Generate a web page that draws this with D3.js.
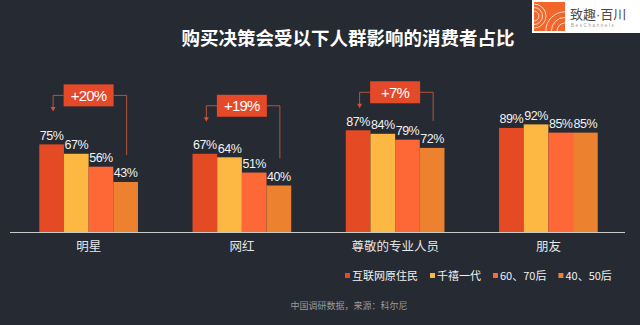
<!DOCTYPE html>
<html>
<head>
<meta charset="utf-8">
<script src="https://cdn.jsdelivr.net/npm/d3@7"></script>
<style>
  html, body { margin: 0; padding: 0; background: #262a33; }
  svg { display: block; }
</style>
</head>
<body>
<svg id="chart" width="640" height="325"></svg>
<script>
// Share of consumers whose purchase decisions are influenced by each group
const categories = ['明星', '网红', '尊敬的专业人员', '朋友'];
const seriesNames = ['互联网原住民', '千禧一代', '60、70后', '40、50后'];
const digitalNatives = [75, 67, 87, 89];
const millennials   = [67, 64, 84, 92];
const gen6070       = [56, 51, 79, 85];
const gen4050       = [43, 40, 72, 85];
const seriesValues  = [digitalNatives, millennials, gen6070, gen4050];
const seriesColors  = ['#e44b24', '#fdb843', '#fe6836', '#ec8130'];

// Gap callouts (youngest vs oldest group)
const calloutCats  = ['明星', '网红', '尊敬的专业人员'];
const calloutTexts = ['+20%', '+19%', '+7%'];
const calloutTipGap = [34, 33, 23];

const title  = '购买决策会受以下人群影响的消费者占比';
const source = '中国调研数据，来源：科尔尼';

const svg = d3.select('#chart');
const W = 640, H = 325;
const cjk = '"Noto Sans CJK SC", "Noto Sans", sans-serif';
const num = '"Liberation Sans", Arial, sans-serif';

svg.append('rect').attr('width', W).attr('height', H).attr('fill', '#262a33');

// Scales
const x0 = d3.scaleBand().domain(categories).range([12, 625])
  .paddingInner(0.356).paddingOuter(0.178);
const x1 = d3.scaleBand().domain(seriesNames).range([0, x0.bandwidth()]);
const y = d3.scaleLinear().domain([0, 100]).range([232.5, 115]);

// Title
svg.append('text').attr('x', 348).attr('y', 45)
  .attr('text-anchor', 'middle').attr('fill', '#ffffff')
  .attr('font-family', cjk).attr('font-weight', 700).attr('font-size', 18.5)
  .text(title);

// Logo
const logo = svg.append('g');
logo.append('rect').attr('x', 532).attr('y', 0).attr('width', 108).attr('height', 33).attr('fill', '#ffffff');
logo.append('rect').attr('x', 534).attr('y', 2).attr('width', 31).attr('height', 29).attr('fill', '#f2662b');
const arcs = logo.append('g').attr('fill', 'none').attr('stroke', '#fbe3d6').attr('stroke-width', 0.9);
[5, 8.5, 12].forEach(r => {
  arcs.append('path').attr('d', `M${534} ${16 - r} A${r} ${r} 0 0 1 ${534} ${16 + r}`);
  arcs.append('path').attr('d', `M${565} ${31 - r * 1.6} A${r * 1.6} ${r * 1.6} 0 0 0 ${565 - r * 1.6} ${31}`);
});
const logoText = logo.append('text').attr('x', 570).attr('y', 19).attr('fill', '#4a4a4a')
  .attr('font-family', cjk).attr('font-size', 13);
logoText.append('tspan').text('致趣');
logoText.append('tspan').attr('font-family', num).text('·');
logoText.append('tspan').text('百川');
logo.append('text').attr('x', 571).attr('y', 27).attr('fill', '#9a9a9a')
  .attr('font-family', num).attr('font-size', 4.5).attr('letter-spacing', 1.6).text('BesChannels');

// Bars
const groups = svg.append('g').selectAll('g').data(categories).join('g')
  .attr('transform', d => `translate(${x0(d)},0)`);

groups.each(function(cat, ci) {
  const g = d3.select(this);
  seriesNames.forEach((s, si) => {
    const v = seriesValues[si][ci];
    g.append('rect')
      .attr('x', x1(s)).attr('y', y(v))
      .attr('width', x1.bandwidth()).attr('height', y(0) - y(v))
      .attr('fill', seriesColors[si]);
  });
  seriesNames.forEach((s, si) => {
    const v = seriesValues[si][ci];
    g.append('text')
      .attr('x', x1(s) + x1.bandwidth() / 2).attr('y', y(v) - 4.5)
      .attr('text-anchor', 'middle').attr('fill', '#f2f2f2')
      .attr('font-family', num).attr('font-size', 12.5).attr('letter-spacing', -0.5)
      .text(v + '%');
  });
});

// Baseline axis
const xAxis = d3.axisBottom(x0).tickSize(0).tickPadding(10);
const axisG = svg.append('g').attr('transform', `translate(0,${y(0)})`).call(xAxis);
axisG.select('.domain').attr('d', 'M10,0H625').attr('stroke', '#c9c9c9').attr('stroke-width', 1.2);
axisG.selectAll('text').attr('fill', '#e6e6e6').attr('font-family', cjk).attr('font-size', 12.5);

// Callouts
const callouts = svg.append('g');
calloutCats.forEach((cat, i) => {
  const ci = categories.indexOf(cat);
  const gx = x0(cat);
  const leftX = gx + x1(seriesNames[0]) + x1.bandwidth() / 2 + 1.5;
  const rightX = gx + x1(seriesNames[3]) + x1.bandwidth() / 2 + 1;
  const tipY = y(seriesValues[0][ci]) - calloutTipGap[i];
  const boxH = 22, boxW = 50;
  const boxBottom = tipY - 4;
  const boxTop = boxBottom - boxH;
  const midY = boxTop + boxH / 2;
  const cx = gx + x0.bandwidth() / 2;
  const endY = y(seriesValues[3][ci]) - 27;
  const line = d3.line();
  callouts.append('path')
    .attr('d', line([[cx - boxW / 2, midY], [leftX, midY], [leftX, tipY - 3]]))
    .attr('fill', 'none').attr('stroke', '#b4553a').attr('stroke-width', 1);
  callouts.append('path')
    .attr('d', `M${leftX - 2.5},${tipY - 3.5}L${leftX + 2.5},${tipY - 3.5}L${leftX},${tipY + 1}Z`)
    .attr('fill', '#d9502e');
  callouts.append('path')
    .attr('d', line([[cx + boxW / 2, midY], [rightX, midY], [rightX, endY]]))
    .attr('fill', 'none').attr('stroke', '#b4553a').attr('stroke-width', 1);
  callouts.append('rect')
    .attr('x', cx - boxW / 2).attr('y', boxTop).attr('width', boxW).attr('height', boxH)
    .attr('fill', '#e4492a');
  callouts.append('text')
    .attr('x', cx).attr('y', midY + 5.5).attr('text-anchor', 'middle')
    .attr('fill', '#ffffff').attr('font-family', num).attr('font-size', 15).attr('letter-spacing', -0.8)
    .text(calloutTexts[i]);
});

// Legend
const legend = svg.append('g');
let lx = 345;
seriesNames.forEach((s, i) => {
  legend.append('rect').attr('x', lx).attr('y', 273).attr('width', 5).attr('height', 5)
    .attr('fill', seriesColors[i]);
  const t = legend.append('text').attr('x', lx + 7).attr('y', 280)
    .attr('fill', '#f0f0f0').attr('font-family', cjk).attr('font-size', 11).text(s);
  lx += 7 + t.node().getComputedTextLength() + 12;
});

// Source note
svg.append('text').attr('x', 349).attr('y', 309).attr('text-anchor', 'middle')
  .attr('fill', '#9a9a9a').attr('font-family', cjk).attr('font-size', 9).text(source);
</script>
</body>
</html>
